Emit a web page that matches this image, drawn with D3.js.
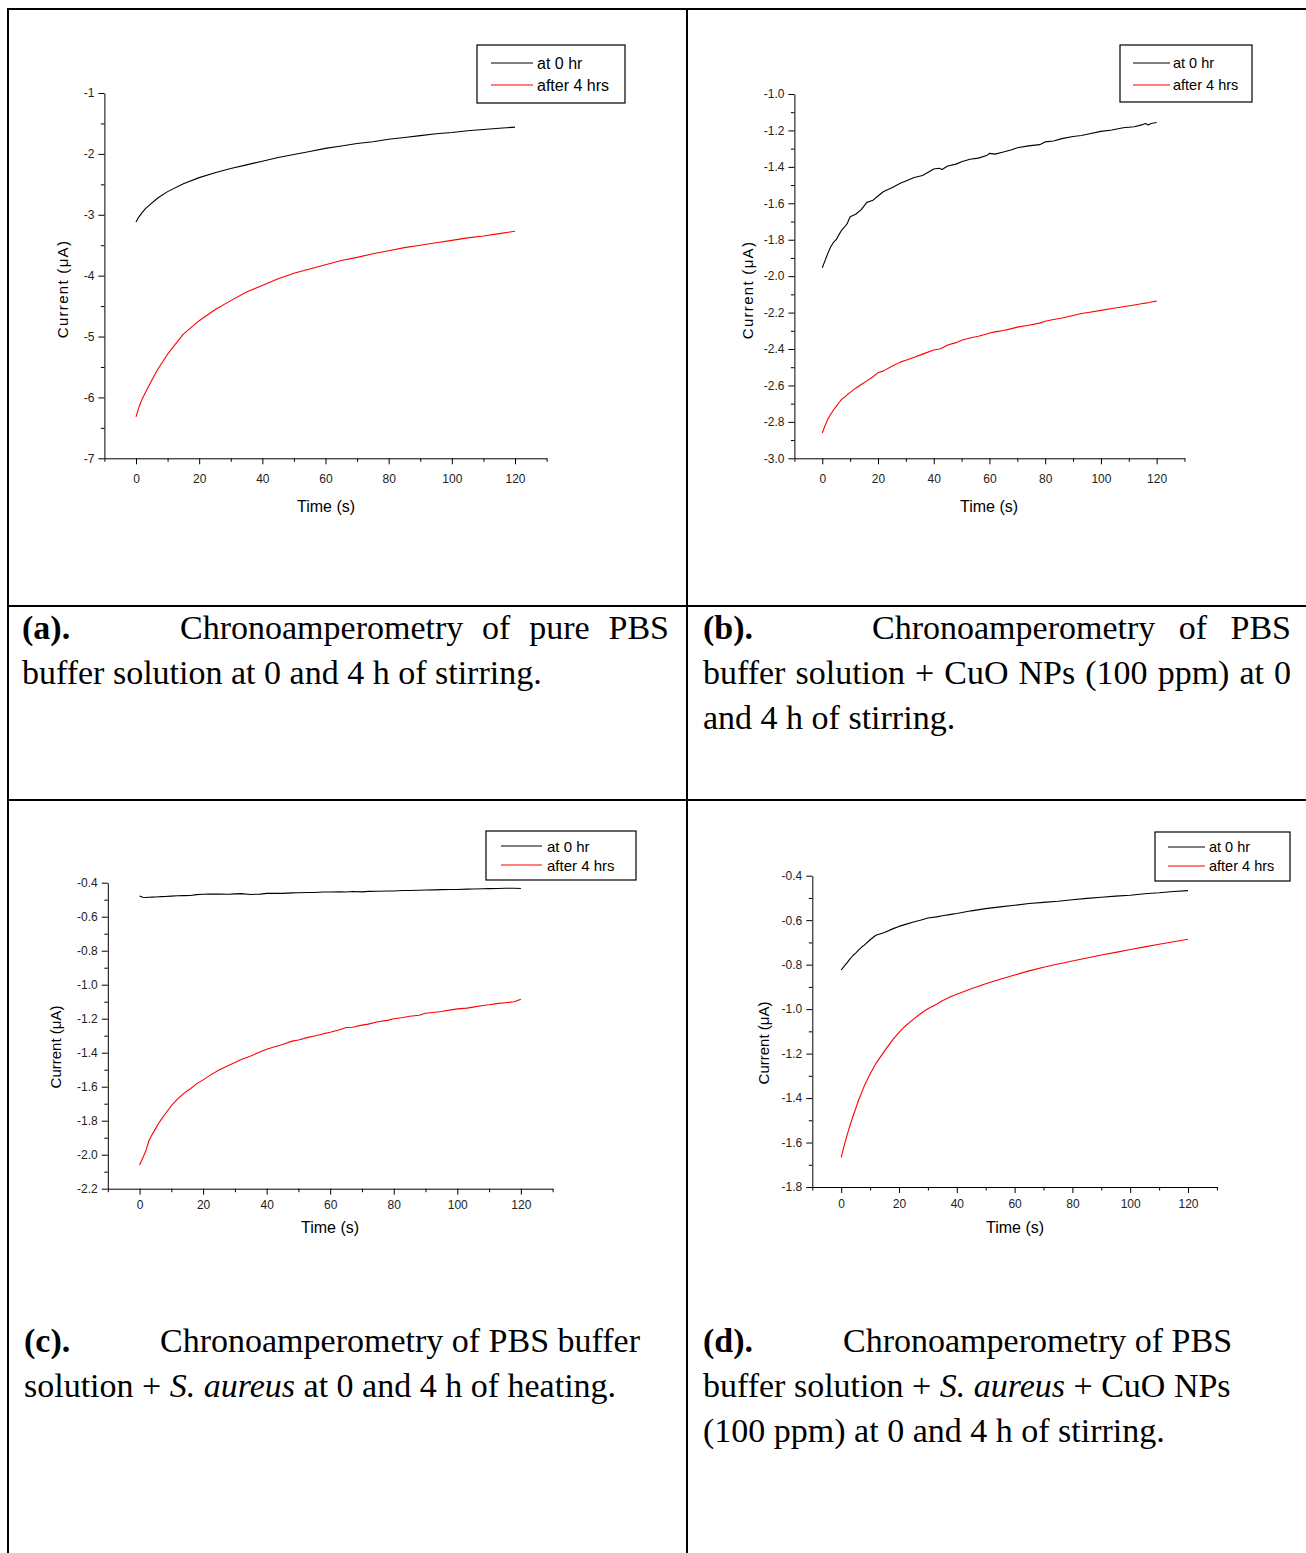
<!DOCTYPE html>
<html>
<head>
<meta charset="utf-8">
<script src="https://cdn.jsdelivr.net/npm/d3@7"></script>
<style>
  body { margin: 0; background: #fff; }
  svg { display: block; }
</style>
</head>
<body>
<svg id="fig"></svg>
<script>
const W = 1306, H = 1553;

const seriesNames = ["at 0 hr", "after 4 hrs"];
const seriesColors = ["#000000", "#ff0000"];
const xTickLabels = [0, 20, 40, 60, 80, 100, 120];

// (a) pure PBS
const timeA = [0, 1, 2, 3, 5, 7, 10, 15, 20, 25, 30, 35, 40, 45, 50, 55, 60, 65, 70, 75, 80, 85, 90, 95, 100, 105, 110, 115, 120];
const a0hr = [-3.12, -3.03, -2.96, -2.90, -2.81, -2.72, -2.62, -2.49, -2.39, -2.31, -2.24, -2.18, -2.12, -2.06, -2.01, -1.96, -1.91, -1.87, -1.83, -1.80, -1.76, -1.73, -1.70, -1.67, -1.65, -1.62, -1.60, -1.58, -1.56];
const a4hr = [-6.32, -6.15, -6.02, -5.92, -5.72, -5.53, -5.29, -4.96, -4.74, -4.56, -4.41, -4.27, -4.16, -4.05, -3.96, -3.89, -3.82, -3.75, -3.70, -3.64, -3.59, -3.54, -3.50, -3.46, -3.42, -3.38, -3.35, -3.31, -3.27];
const yTicksA = [-7, -6, -5, -4, -3, -2, -1];

// (b) PBS + CuO NPs
const timeB = [0, 1, 2, 3, 4, 5, 6, 7, 8, 9, 10, 12, 14, 16, 18, 20, 22, 25, 28, 30, 33, 36, 40, 42, 43, 45, 48, 50, 53, 56, 59, 60, 62, 65, 68, 70, 74, 78, 80, 83, 86, 90, 93, 96, 100, 104, 108, 112, 115, 116, 117, 118, 120];
const b0hr = [-1.954, -1.915, -1.875, -1.840, -1.815, -1.800, -1.772, -1.747, -1.730, -1.710, -1.674, -1.660, -1.635, -1.595, -1.585, -1.560, -1.535, -1.515, -1.490, -1.478, -1.458, -1.447, -1.412, -1.408, -1.414, -1.395, -1.385, -1.372, -1.358, -1.352, -1.338, -1.326, -1.330, -1.318, -1.306, -1.295, -1.285, -1.278, -1.263, -1.258, -1.245, -1.233, -1.228, -1.218, -1.205, -1.198, -1.185, -1.180, -1.168, -1.162, -1.170, -1.162, -1.156];
const b4hr = [-2.861, -2.820, -2.785, -2.760, -2.735, -2.715, -2.695, -2.675, -2.665, -2.650, -2.638, -2.615, -2.595, -2.575, -2.555, -2.530, -2.520, -2.495, -2.472, -2.462, -2.445, -2.428, -2.405, -2.400, -2.395, -2.378, -2.365, -2.352, -2.340, -2.330, -2.318, -2.312, -2.306, -2.298, -2.288, -2.280, -2.270, -2.258, -2.248, -2.238, -2.230, -2.216, -2.205, -2.198, -2.188, -2.178, -2.168, -2.158, -2.150, -2.148, -2.146, -2.142, -2.137];
const yTicksB = [-3.0, -2.8, -2.6, -2.4, -2.2, -2.0, -1.8, -1.6, -1.4, -1.2, -1.0];

// (c) PBS + S. aureus
const timeC = [0, 1, 2, 3, 4, 5, 6, 7, 8, 10, 12, 14, 16, 18, 20, 22, 25, 28, 30, 32, 35, 38, 40, 42, 45, 48, 50, 53, 55, 58, 60, 63, 65, 67, 70, 72, 75, 78, 80, 83, 85, 88, 90, 93, 95, 98, 100, 103, 105, 108, 110, 113, 115, 118, 120];
const c0hr = [-0.478, -0.486, -0.487, -0.486, -0.485, -0.484, -0.483, -0.482, -0.481, -0.479, -0.477, -0.476, -0.475, -0.470, -0.468, -0.467, -0.467, -0.468, -0.466, -0.464, -0.469, -0.467, -0.463, -0.462, -0.463, -0.460, -0.459, -0.458, -0.458, -0.455, -0.455, -0.454, -0.455, -0.452, -0.454, -0.451, -0.450, -0.449, -0.449, -0.446, -0.446, -0.444, -0.443, -0.442, -0.441, -0.440, -0.440, -0.438, -0.437, -0.436, -0.435, -0.434, -0.433, -0.433, -0.434];
const c4hr = [-2.061, -2.020, -1.975, -1.915, -1.880, -1.848, -1.815, -1.788, -1.762, -1.712, -1.672, -1.638, -1.612, -1.582, -1.560, -1.535, -1.502, -1.475, -1.458, -1.440, -1.420, -1.395, -1.380, -1.368, -1.352, -1.332, -1.325, -1.310, -1.302, -1.288, -1.280, -1.265, -1.252, -1.250, -1.238, -1.232, -1.218, -1.210, -1.200, -1.193, -1.186, -1.180, -1.168, -1.162, -1.158, -1.148, -1.142, -1.138, -1.132, -1.122, -1.118, -1.110, -1.106, -1.100, -1.086];
const yTicksC = [-2.2, -2.0, -1.8, -1.6, -1.4, -1.2, -1.0, -0.8, -0.6, -0.4];

// (d) PBS + S. aureus + CuO NPs
const timeD = [0, 1, 2, 3, 4, 5, 6, 7, 8, 10, 12, 15, 18, 20, 22, 25, 28, 30, 33, 35, 38, 40, 45, 50, 55, 60, 65, 70, 75, 80, 85, 90, 95, 100, 105, 110, 115, 120];
const d0hr = [-0.824, -0.808, -0.792, -0.775, -0.760, -0.748, -0.735, -0.722, -0.712, -0.688, -0.668, -0.655, -0.638, -0.628, -0.620, -0.608, -0.598, -0.590, -0.585, -0.580, -0.574, -0.570, -0.558, -0.548, -0.540, -0.533, -0.525, -0.520, -0.515, -0.508, -0.502, -0.497, -0.492, -0.488, -0.481, -0.477, -0.471, -0.467];
const d4hr = [-1.667, -1.615, -1.568, -1.525, -1.485, -1.448, -1.410, -1.378, -1.345, -1.292, -1.245, -1.188, -1.135, -1.105, -1.078, -1.045, -1.015, -0.998, -0.978, -0.962, -0.943, -0.933, -0.908, -0.886, -0.866, -0.847, -0.828, -0.812, -0.797, -0.784, -0.770, -0.757, -0.745, -0.732, -0.720, -0.708, -0.697, -0.686];
const yTicksD = [-1.8, -1.6, -1.4, -1.2, -1.0, -0.8, -0.6, -0.4];

// captions, one entry per printed line
const captions = [
  { x: 22, y: 639, parts: [{ t: "(a).", b: true }] },
  { x: 180, x1: 669, y: 639, justify: true, parts: [{ t: "Chronoamperometry of pure PBS" }] },
  { x: 22, y: 684, parts: [{ t: "buffer solution at 0 and 4 h of stirring." }] },
  { x: 703, y: 639, parts: [{ t: "(b).", b: true }] },
  { x: 872, x1: 1291, y: 639, justify: true, parts: [{ t: "Chronoamperometry of PBS" }] },
  { x: 703, x1: 1291, y: 684, justify: true, parts: [{ t: "buffer solution + CuO NPs (100 ppm) at 0" }] },
  { x: 703, y: 729, parts: [{ t: "and 4 h of stirring." }] },
  { x: 24, y: 1352, parts: [{ t: "(c).", b: true }] },
  { x: 160, y: 1352, parts: [{ t: "Chronoamperometry of PBS buffer" }] },
  { x: 24, y: 1397, parts: [{ t: "solution + " }, { t: "S. aureus", i: true }, { t: " at 0 and 4 h of heating." }] },
  { x: 703, y: 1352, parts: [{ t: "(d).", b: true }] },
  { x: 843, y: 1352, parts: [{ t: "Chronoamperometry of PBS" }] },
  { x: 703, y: 1397, parts: [{ t: "buffer solution + " }, { t: "S. aureus", i: true }, { t: " + CuO NPs" }] },
  { x: 703, y: 1442, parts: [{ t: "(100 ppm) at 0 and 4 h of stirring." }] }
];

const panels = [
  {
    time: timeA, series: [a0hr, a4hr], yTicks: yTicksA, yMinorStep: 0.5, fmt: d => String(d),
    left: 104.4, right: 546.6, top: 93, bottom: 458.3, xPad: 10,
    legend: { x: 477, y: 45, w: 148, h: 58, rows: [63, 85], line: [491, 533], tx: 537, fs: 16 },
    yLab: [62, 289], yLs: 1.3, xLab: [326, 506]
  },
  {
    time: timeB, series: [b0hr, b4hr], yTicks: yTicksB, yMinorStep: 0.1, fmt: d => d.toFixed(1),
    left: 794.4, right: 1184.5, top: 94, bottom: 458.3, xPad: 10,
    legend: { x: 1120, y: 45, w: 132, h: 57, rows: [63, 85], line: [1133, 1170], tx: 1173, fs: 14.5 },
    yLab: [747, 290], yLs: 1.3, xLab: [989, 506]
  },
  {
    time: timeC, series: [c0hr, c4hr], yTicks: yTicksC, yMinorStep: 0.1, fmt: d => d.toFixed(1),
    left: 107.8, right: 552.6, top: 882.7, bottom: 1188.7, xPad: 6,
    legend: { x: 486, y: 831, w: 150, h: 49, rows: [846, 865], line: [501, 542], tx: 547, fs: 15 },
    yLab: [55, 1047], yLs: 0, xLab: [330, 1227]
  },
  {
    time: timeD, series: [d0hr, d4hr], yTicks: yTicksD, yMinorStep: 0.1, fmt: d => d.toFixed(1),
    left: 812.3, right: 1216.9, top: 875.7, bottom: 1187, xPad: 6,
    legend: { x: 1155, y: 832, w: 135, h: 49, rows: [847, 866], line: [1168, 1205], tx: 1209, fs: 14.5 },
    yLab: [763, 1043], yLs: 0, xLab: [1015, 1227]
  }
];

const sans = "'Liberation Sans', Arial, sans-serif";
const serif = "'Liberation Serif', 'Times New Roman', serif";

const svg = d3.select("#fig").attr("width", W).attr("height", H);
svg.append("rect").attr("width", W).attr("height", H).attr("fill", "#fff");

// table grid
const grid = svg.append("g").attr("stroke", "#000").attr("stroke-width", 2);
grid.append("line").attr("x1", 8).attr("x2", 8).attr("y1", 8).attr("y2", H);
grid.append("line").attr("x1", 687).attr("x2", 687).attr("y1", 8).attr("y2", H);
[9, 606, 800].forEach(y => {
  grid.append("line").attr("x1", 7).attr("x2", W).attr("y1", y).attr("y2", y);
});

function drawPanel(p) {
  const g = svg.append("g");
  const x = d3.scaleLinear().domain([-10, 130]).range([p.left, p.right]);
  const yMin = d3.min(p.yTicks), yMax = d3.max(p.yTicks);
  const y = d3.scaleLinear().domain([yMin, yMax]).range([p.bottom, p.top]);

  const xMinor = d3.range(-10, 131, 20);
  const yMinor = d3.range(yMin + p.yMinorStep, yMax, p.yMinorStep * 2);

  // x axis
  g.append("g")
    .attr("transform", `translate(0,${p.bottom})`)
    .call(d3.axisBottom(x).tickValues(xMinor).tickSize(3.5).tickFormat("").tickSizeOuter(0))
    .call(a => a.select(".domain").remove());
  g.append("g")
    .attr("transform", `translate(0,${p.bottom})`)
    .call(d3.axisBottom(x).tickValues(xTickLabels).tickSize(6).tickPadding(p.xPad).tickSizeOuter(0))
    .call(a => a.selectAll("text").attr("font-family", sans).attr("font-size", 12).attr("fill", "#222"));

  // y axis
  g.append("g")
    .attr("transform", `translate(${p.left},0)`)
    .call(d3.axisLeft(y).tickValues(yMinor).tickSize(3.5).tickFormat("").tickSizeOuter(0))
    .call(a => a.select(".domain").remove());
  g.append("g")
    .attr("transform", `translate(${p.left},0)`)
    .call(d3.axisLeft(y).tickValues(p.yTicks).tickSize(6).tickPadding(4).tickFormat(p.fmt).tickSizeOuter(0))
    .call(a => a.selectAll("text").attr("font-family", sans).attr("font-size", 12).attr("fill", "#222"));

  g.selectAll(".domain, .tick line").attr("stroke", "#000").attr("stroke-width", 1);

  // curves
  const line = d3.line().x((d, i) => x(p.time[i])).y(d => y(d));
  p.series.forEach((s, k) => {
    g.append("path")
      .datum(s)
      .attr("fill", "none")
      .attr("stroke", seriesColors[k])
      .attr("stroke-width", 1.1)
      .attr("stroke-linejoin", "round")
      .attr("d", line);
  });

  // axis titles
  g.append("text")
    .attr("transform", `translate(${p.yLab[0]},${p.yLab[1]}) rotate(-90)`)
    .attr("text-anchor", "middle")
    .attr("dominant-baseline", "central")
    .attr("font-family", sans)
    .attr("font-size", 15)
    .attr("letter-spacing", p.yLs)
    .text("Current (\u03bcA)");
  g.append("text")
    .attr("x", p.xLab[0]).attr("y", p.xLab[1])
    .attr("text-anchor", "middle")
    .attr("dominant-baseline", "central")
    .attr("font-family", sans)
    .attr("font-size", 16)
    .text("Time (s)");

  // legend
  const L = p.legend;
  g.append("rect")
    .attr("x", L.x).attr("y", L.y).attr("width", L.w).attr("height", L.h)
    .attr("fill", "#fff").attr("stroke", "#000").attr("stroke-width", 1.2);
  seriesNames.forEach((name, k) => {
    g.append("line")
      .attr("x1", L.line[0]).attr("x2", L.line[1])
      .attr("y1", L.rows[k]).attr("y2", L.rows[k])
      .attr("stroke", seriesColors[k]).attr("stroke-width", 1.1);
    g.append("text")
      .attr("x", L.tx).attr("y", L.rows[k])
      .attr("dominant-baseline", "central")
      .attr("font-family", sans)
      .attr("font-size", L.fs)
      .text(name);
  });
}

panels.forEach(drawPanel);

// captions
const cap = svg.append("g").attr("font-family", serif).attr("font-size", 34).attr("fill", "#000");
captions.forEach(c => {
  if (c.justify) {
    const words = c.parts[0].t.split(" ");
    const nodes = words.map(w => cap.append("text").attr("y", c.y).text(w));
    const widths = nodes.map(n => n.node().getComputedTextLength());
    const gap = (c.x1 - c.x - d3.sum(widths)) / (words.length - 1);
    let xx = c.x;
    nodes.forEach((n, i) => { n.attr("x", xx); xx += widths[i] + gap; });
  } else {
    const t = cap.append("text").attr("x", c.x).attr("y", c.y).attr("xml:space", "preserve");
    c.parts.forEach(part => {
      t.append("tspan")
        .attr("font-weight", part.b ? "bold" : null)
        .attr("font-style", part.i ? "italic" : null)
        .text(part.t);
    });
  }
});
</script>
</body>
</html>
